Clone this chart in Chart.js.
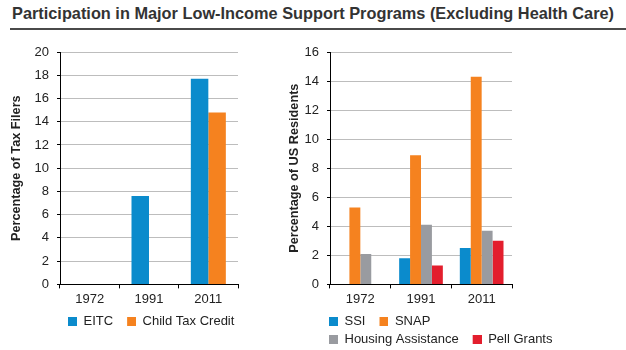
<!DOCTYPE html>
<html><head><meta charset="utf-8">
<script src="https://cdn.jsdelivr.net/npm/chart.js@4"></script>
<style>
html,body{margin:0;padding:0;width:626px;height:350px;overflow:hidden;background:#fff;}
#title{position:absolute;left:12px;top:4px;font:bold 17px "Liberation Sans",Arial,sans-serif;color:#333;white-space:nowrap;transform-origin:0 0;}
#rule{position:absolute;left:10px;top:28px;width:616px;height:2px;background:#4a4a4a;}
canvas{position:absolute;}
#c1{left:0;top:36px;width:270px;height:302px;}
#c2{left:270px;top:36px;width:356px;height:320px;}
</style></head><body>
<div id="title">Participation in Major Low-Income Support Programs (Excluding Health Care)</div>
<div id="rule"></div>
<canvas id="c1" width="270" height="302"></canvas>
<canvas id="c2" width="356" height="320"></canvas>
<script>
// ---- data ----
const years = ['1972', '1991', '2011'];
const eitc = [null, 7.6, 17.7];
const childTaxCredit = [null, null, 14.8];
const ssi = [null, 1.8, 2.5];
const snap = [5.3, 8.9, 14.3];
const housingAssistance = [2.1, 4.1, 3.7];
const pellGrants = [null, 1.3, 3.0];
const leftTitle = 'Percentage of Tax Filers';
const rightTitle = 'Percentage of US Residents';

// ---- title fit ----
(function(){
  const t = document.getElementById('title');
  const w = t.getBoundingClientRect().width;
  t.style.transform = 'scaleX(' + (602 / w) + ')';
})();

const BLUE = '#0b8bcc', ORANGE = '#f5821f', GRAY = '#999ba0', RED = '#e31e2d';

Chart.defaults.font.family = "'Liberation Sans', Arial, sans-serif";
Chart.defaults.font.size = 13;
Chart.defaults.color = '#222';

function swatch(color) {
  const c = document.createElement('canvas');
  c.width = 18; c.height = 9;
  const g = c.getContext('2d');
  g.fillStyle = color;
  g.fillRect(9, 0, 9, 9);
  return c;
}

function makeChart(id, datasets, yMax, yTitle, o) {
  return new Chart(document.getElementById(id), {
    type: 'bar',
    data: { labels: years, datasets: datasets },
    options: {
      responsive: false,
      animation: false,
      devicePixelRatio: 1,
      layout: { padding: { left: 4, right: o.padRight, top: 16, bottom: 0 } },
      datasets: { bar: { categoryPercentage: o.catPct, barPercentage: 1 } },
      scales: {
        x: {
          grid: { display: true, offset: true, drawOnChartArea: false, tickLength: 4, color: '#000', tickColor: '#000' },
          border: { display: true, color: '#000' },
          ticks: { padding: 3, color: '#222', font: { size: 13 } }
        },
        y: {
          min: 0, max: yMax,
          ticks: { stepSize: 2, padding: 8, color: '#222', font: { size: 13 } },
          grid: { color: '#bdbdbd', tickColor: '#000', tickLength: 3 },
          border: { display: true, color: '#000' },
          title: { display: true, text: yTitle, color: '#222', font: { size: 12.7, weight: 'bold' }, padding: { top: o.titlePad, bottom: 0 } },
          afterFit(s) { s.width = 56; }
        },
        spacer: {
          position: 'right', display: true,
          grid: { display: false }, border: { display: false }, ticks: { display: false },
          afterFit(s) { s.width = o.spacer; }
        }
      },
      plugins: {
        tooltip: { enabled: false },
        legend: {
          position: 'bottom', align: 'start', fullSize: true,
          labels: {
            usePointStyle: true, pointStyleWidth: 18, padding: 5, color: '#222', font: { size: 13 },
            generateLabels(chart) {
              const items = Chart.defaults.plugins.legend.labels.generateLabels(chart);
              items.forEach((it) => { it.pointStyle = swatch(chart.data.datasets[it.datasetIndex].backgroundColor); });
              return items;
            }
          }
        }
      }
    },
    plugins: [{
      id: 'shiftLegend',
      afterLayout(chart) {
        const lg = chart.legend;
        const dx = chart.chartArea.left + o.legendOffset - lg.left;
        lg.left += dx;
        lg.right += dx;
      }
    }]
  });
}

makeChart('c1', [
  { label: 'EITC', data: eitc, backgroundColor: BLUE },
  { label: 'Child Tax Credit', data: childTaxCredit, backgroundColor: ORANGE }
], 20, leftTitle, { padRight: 0, spacer: 32, catPct: 0.59, titlePad: 4.4, legendOffset: -6 });

makeChart('c2', [
  { label: 'SSI', data: ssi, backgroundColor: BLUE },
  { label: 'SNAP', data: snap, backgroundColor: ORANGE },
  { label: 'Housing Assistance', data: housingAssistance, backgroundColor: GRAY },
  { label: 'Pell Grants', data: pellGrants, backgroundColor: RED }
], 16, rightTitle, { padRight: 99, spacer: 15, catPct: 0.72, titlePad: 12.9, legendOffset: -15 });
</script>
</body></html>
